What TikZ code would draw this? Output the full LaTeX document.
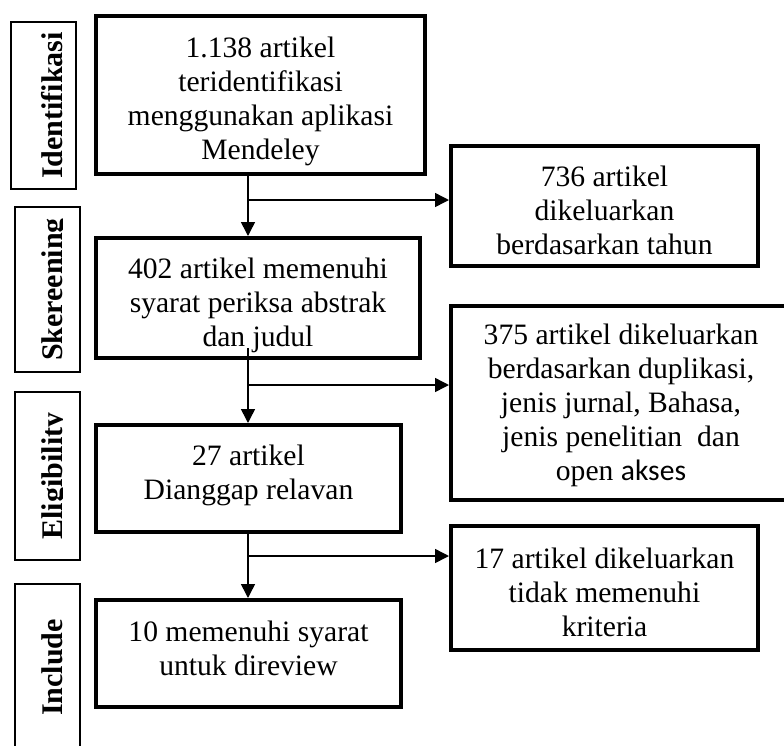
\documentclass[tikz,border=0pt]{standalone}
\usepackage{fontspec}
\setmainfont{Liberation Serif}
\newfontfamily\calibri{Carlito}
\usetikzlibrary{arrows.meta,positioning}

\begin{document}
\begin{tikzpicture}[x=0.5pt,y=-0.5pt,
  every node/.style={font=\fontsize{14.8}{17}\selectfont},
  flowbox/.style={draw,line width=2pt,inner sep=0pt},
  boxtext/.style={inner sep=0pt,align=center},
  stage/.style={draw,line width=1.1pt,minimum width=32.4pt,inner sep=0pt},
  stagetext/.style={rotate=90,anchor=base,inner sep=0pt,font=\fontsize{15}{17}\selectfont\bfseries},
  arr/.style={line width=0.75pt,-{Triangle[length=7pt,width=7pt]}}]
  \path[use as bounding box,clip] (0,0) rectangle (784,746);

  % main column
  \node[flowbox,minimum width=164.7pt,minimum height=79pt] (b1) at (260.5,95) {};
  \node[flowbox,minimum width=162pt,minimum height=60pt] (b2) at (258,298) {};
  \node[flowbox,minimum width=152.5pt,minimum height=53.5pt] (b3) at (248.5,478.5) {};
  \node[flowbox,minimum width=152.5pt,minimum height=53.5pt] (b4) at (248.5,653.5) {};
  \node[boxtext,below=11.5pt of b1.north] (t1) {1.138 artikel\\teridentifikasi\\menggunakan aplikasi\\Mendeley};
  \node[boxtext,below=11pt of b2.north] (t2) {402 artikel memenuhi\\syarat periksa abstrak\\dan judul};
  \node[boxtext,below=11pt of b3.north] (t3) {27 artikel\\Dianggap relavan};
  \node[boxtext,below=11.5pt of b4.north] (t4) {10 memenuhi syarat\\untuk direview};

  % excluded (r2 runs off the page on the right)
  \node[flowbox,minimum width=153.5pt,minimum height=60pt] (r1) at (604.5,206) {};
  \node[flowbox,minimum width=223.5pt,minimum height=97pt] (r2) at (674.5,403) {};
  \node[flowbox,minimum width=153.5pt,minimum height=62pt] (r3) at (604.5,588) {};
  \coordinate (r2top) at (621,302);
  \node[boxtext,below=11pt of r1.north] (s1) {736 artikel\\dikeluarkan\\berdasarkan tahun};
  \node[boxtext,below=11pt of r2top] (s2) {375 artikel dikeluarkan\\berdasarkan duplikasi,\\jenis jurnal, Bahasa,\\jenis penelitian\ \ dan\\open {\calibri akses}};
  \node[boxtext,below=12pt of r3.north] (s3) {17 artikel dikeluarkan\\tidak memenuhi\\kriteria};

  % stages
  \foreach \nm/\xc/\yc/\h/\lab in {ident/43.5/105.5/83.5/Identifikasi, skr/47.5/289.5/82.5/Skereening,
      elig/47.5/476/84/Eligibility, incl/47.5/667.5/83.5/Include}{
    \node[stage,minimum height=\h pt] (\nm) at (\xc,\yc) {};
    \begin{scope}
      \clip (0,0) rectangle (62.5,746);
      \node[stagetext] (\nm-t) at (62,\yc) {\lab};
    \end{scope}
  }

  % connectors
  \coordinate (j1) at (248,200);
  \coordinate (j2) at (248,385);
  \coordinate (j3) at (248,556);
  \draw[arr] (b1.south -| j1) -- (b2.north -| j1);
  \draw[arr] (j1) -- (j1 -| r1.west);
  \draw[arr] ([yshift=6pt]b2.south -| j2) -- (b3.north -| j2);
  \draw[arr] (j2) -- (j2 -| r2.west);
  \draw[arr] (b3.south -| j3) -- (b4.north -| j3);
  \draw[arr] (j3) -- (j3 -| r3.west);
\end{tikzpicture}
\end{document}
